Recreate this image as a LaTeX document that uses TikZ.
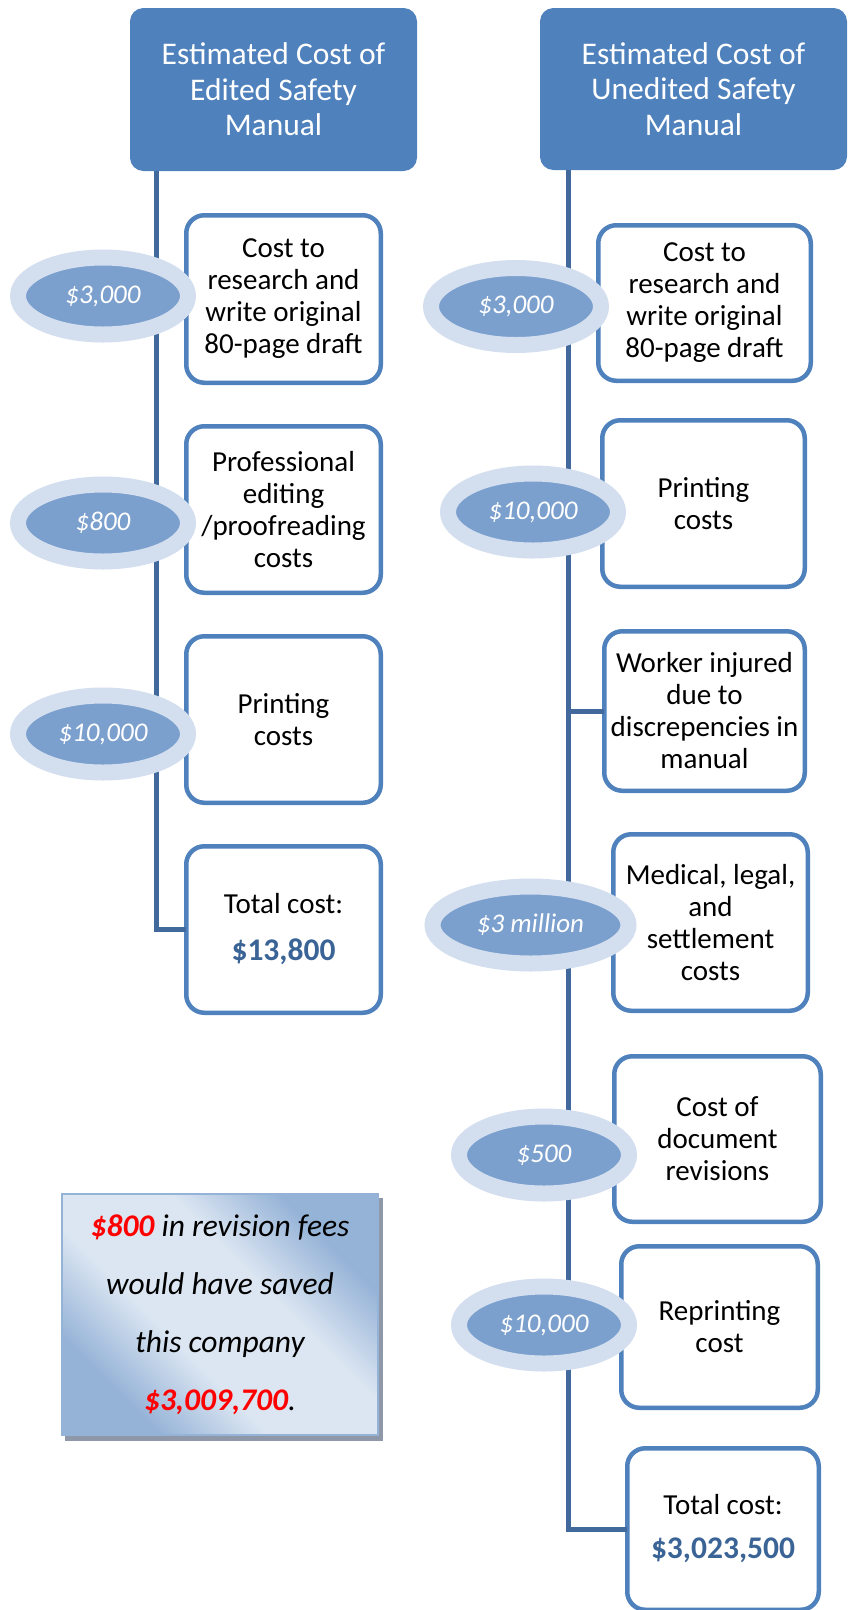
\documentclass[tikz,border=0pt]{standalone}
\usepackage{fontspec}
\setmainfont{Carlito}
\usetikzlibrary{shapes.geometric}
\definecolor{hdr}{HTML}{4F81BD}
\definecolor{bord}{HTML}{4F81BD}
\definecolor{lnc}{HTML}{41699C}
\definecolor{ringout}{HTML}{D3DEEF}
\definecolor{ringin}{HTML}{7BA0CE}
\definecolor{totc}{HTML}{3B6496}
\definecolor{cdk}{HTML}{95B3D7}
\definecolor{clt}{HTML}{DCE6F2}
\definecolor{shad}{HTML}{8E98A8}
\definecolor{redc}{HTML}{FF0000}
\pgfdeclareverticalshading{calshade}{100bp}{color(0bp)=(cdk); color(27bp)=(cdk); color(41bp)=(clt); color(59bp)=(clt); color(73bp)=(cdk); color(100bp)=(cdk)}
\tikzset{
  header/.style={rectangle, rounded corners=13pt, fill=hdr, draw=hdr, line width=1pt, text=white,
    align=center, inner sep=0pt, outer sep=0pt, font=\fontsize{31.5}{35.5}\selectfont},
  costbox/.style={rectangle, rounded corners=18pt, fill=white, draw=bord, line width=4.5pt,
    align=center, inner sep=0pt, outer sep=0pt, font=\fontsize{29}{32}\selectfont},
  bubble/.style={ellipse, fill=ringin, draw=ringout, line width=16pt, inner sep=0pt,
    minimum width=170pt, minimum height=77pt, text=white, font=\fontsize{27}{30}\selectfont\itshape},
  conn/.style={draw=lnc, line width=5pt},
  callout/.style={rectangle, shading=calshade, shading angle=-45, draw=cdk, line width=2pt,
    align=center, inner sep=0pt, font=\fontsize{31.5}{58}\selectfont\itshape}
}
\begin{document}
\begin{tikzpicture}[x=1pt,y=-1pt]
\useasboundingbox (0,0) rectangle (848,1610);

% headers
\node[header, minimum width=286pt, minimum height=162pt] (h1) at (273.5,89.5)
  {Estimated Cost of\\Edited Safety\\Manual};
\node[header, minimum width=306pt, minimum height=161pt] (h2) at (693.5,89)
  {Estimated Cost of\\Unedited Safety\\Manual};

\coordinate (t1) at (156,171);
\coordinate (t2) at (568,170);

% left boxes
\node[costbox, minimum width=194.5pt, minimum height=167.5pt] (l1) at (283.5,299)
  {Cost to\\research and\\write original\\80-page draft};
\node[costbox, minimum width=194.5pt, minimum height=166.5pt] (l2) at (283.5,509.5)
  {Professional\\editing\\/proofreading\\costs};
\node[costbox, minimum width=194.5pt, minimum height=166.5pt] (l3) at (283.5,719.5)
  {Printing\\costs};
\node[costbox, minimum width=194.5pt, minimum height=166.5pt] (l4) at (283.5,929.5)
  {Total cost:\\[15pt]{\fontsize{31.5}{32}\selectfont\bfseries\color{totc}\$13,800}};

% right boxes
\node[costbox, minimum width=212.5pt, minimum height=155.5pt] (r1) at (704.5,303)
  {Cost to\\research and\\write original\\80-page draft};
\node[costbox, minimum width=202.5pt, minimum height=166.5pt] (r2) at (703.5,503.5)
  {Printing\\costs};
\node[costbox, minimum width=200.5pt, minimum height=159.5pt] (r3) at (704.5,711)
  {Worker injured\\due to\\discrepencies in\\manual};
\node[costbox, minimum width=194.5pt, minimum height=176.5pt] (r4) at (710.5,922.5)
  {Medical, legal,\\and\\settlement\\costs};
\node[costbox, minimum width=206.5pt, minimum height=165.5pt] (r5) at (717.5,1139)
  {Cost of\\document\\revisions};
\node[costbox, minimum width=196.5pt, minimum height=161.5pt] (r6) at (719.5,1327)
  {Reprinting\\cost};
\node[costbox, minimum width=191.5pt, minimum height=161.5pt] (r7) at (723,1529)
  {Total cost:\\[12pt]{\fontsize{31.5}{32}\selectfont\bfseries\color{totc}\$3,023,500}};

% ellipse positions (named coordinates for the stubs)
\coordinate (pe1) at (103,296);
\coordinate (pe2) at (103,523);
\coordinate (pe3) at (103,734);
\coordinate (qe1) at (516,306.5);
\coordinate (qe2) at (533,512);
\coordinate (qe4) at (530.5,925);
\coordinate (qe5) at (544,1155);
\coordinate (qe6) at (544,1325);

% connectors
\draw[conn] (t1) |- (l4.west);
\draw[conn] (t2) |- (r7.west);
\draw[conn] (t1 |- pe1) -- (pe1 -| l1.west);
\draw[conn] (t1 |- pe2) -- (pe2 -| l2.west);
\draw[conn] (t1 |- pe3) -- (pe3 -| l3.west);
\draw[conn] (t2 |- qe1) -- (qe1 -| r1.west);
\draw[conn] (t2 |- qe2) -- (qe2 -| r2.west);
\draw[conn] (t2 |- r3.west) -- (r3.west);
\draw[conn] (t2 |- qe4) -- (qe4 -| r4.west);
\draw[conn] (t2 |- qe5) -- (qe5 -| r5.west);
\draw[conn] (t2 |- qe6) -- (qe6 -| r6.west);

% bubbles
\node[bubble] (e1) at (pe1) {\$3,000};
\node[bubble] (e2) at (pe2) {\$800};
\node[bubble] (e3) at (pe3) {\$10,000};
\node[bubble] (f1) at (qe1) {\$3,000};
\node[bubble] (f2) at (qe2) {\$10,000};
\node[bubble, minimum width=196pt] (f4) at (qe4) {\$3 million};
\node[bubble] (f5) at (qe5) {\$500};
\node[bubble] (f6) at (qe6) {\$10,000};

% callout
\fill[shad] (65,1198) rectangle (383,1441);
\node[callout, minimum width=316pt, minimum height=241pt] (note) at (220,1314.5)
  {{\bfseries\color{redc}\$800} in revision fees\\would have saved\\this company\\{\bfseries\color{redc}\$3,009,700}.};
\end{tikzpicture}
\end{document}
